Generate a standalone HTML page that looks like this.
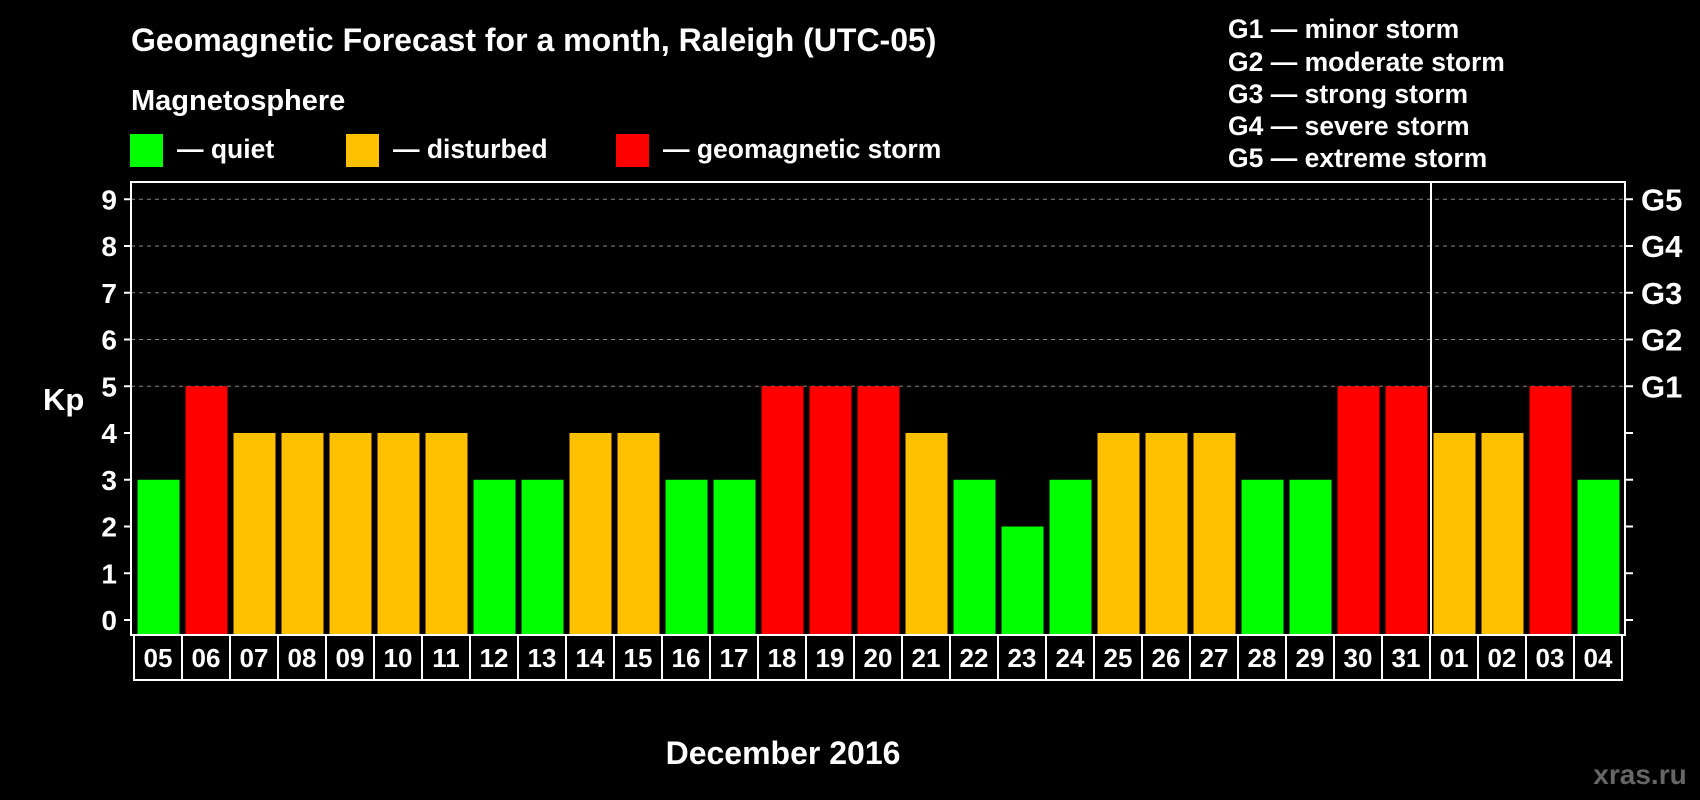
<!DOCTYPE html>
<html><head><meta charset="utf-8"><style>
body{margin:0;background:#000;}
svg{display:block;font-family:"Liberation Sans",Arial,sans-serif;font-weight:bold;}
</style></head><body>
<svg id="chart" width="1700" height="800" viewBox="0 0 1700 800">
<rect width="1700" height="800" fill="#000"/>
<text x="131" y="51" fill="#fff" font-size="32">Geomagnetic Forecast for a month, Raleigh (UTC-05)</text>
<text x="131" y="110" fill="#fff" font-size="29">Magnetosphere</text>
<g><rect x="130" y="134" width="33" height="33" fill="#00ff00"/><text x="177" y="158" fill="#fff" font-size="26.5">— quiet</text></g>
<g><rect x="346" y="134" width="33" height="33" fill="#ffc000"/><text x="393" y="158" fill="#fff" font-size="26.5">— disturbed</text></g>
<g><rect x="616" y="134" width="33" height="33" fill="#ff0000"/><text x="663" y="158" fill="#fff" font-size="26.5">— geomagnetic storm</text></g>
<g fill="#fff" font-size="26.5">
<text x="1228" y="38">G1 — minor storm</text>
<text x="1228" y="71">G2 — moderate storm</text>
<text x="1228" y="103">G3 — strong storm</text>
<text x="1228" y="135">G4 — severe storm</text>
<text x="1228" y="167">G5 — extreme storm</text>
</g>
<text x="43" y="410" fill="#fff" font-size="31">Kp</text>
<text x="783" y="764" fill="#fff" font-size="32" text-anchor="middle">December 2016</text>
<text x="1640" y="784" fill="#666" font-size="28" text-anchor="middle">xras.ru</text>
<g id="plot"></g>
</svg>
<script>
const days=["05","06","07","08","09","10","11","12","13","14","15","16","17","18","19","20","21","22","23","24","25","26","27","28","29","30","31","01","02","03","04"];
const kp=[3,5,4,4,4,4,4,3,3,4,4,3,3,5,5,5,4,3,2,3,4,4,4,3,3,5,5,4,4,5,3];
const yTicks=[0,1,2,3,4,5,6,7,8,9];
const gLabels=["G1","G2","G3","G4","G5"];
const gLevels=[5,6,7,8,9];
const NS="http://www.w3.org/2000/svg";
const g=document.getElementById('plot');
const L=131,R=1625,T=182,B=635;
const y=v=>620-v*46.75;
const x=i=>137.5+i*48;
function mk(t,a){const e=document.createElementNS(NS,t);for(const k in a)e.setAttribute(k,a[k]);g.appendChild(e);return e;}
const col=v=>v>=5?"#ff0000":v>=4?"#ffc000":"#00ff00";
gLevels.forEach(v=>{const e=mk('line',{x1:L,x2:R,y1:y(v),y2:y(v),stroke:'#888','stroke-dasharray':'4,4'});

});
yTicks.forEach(v=>{
const t=mk('text',{x:117,y:y(v)+10,fill:'#fff','font-size':28,'text-anchor':'end'});t.textContent=v;


const a=mk('line',{x1:124,x2:L,y1:y(v),y2:y(v),stroke:'#fff','stroke-width':2});


const b=mk('line',{x1:R,x2:R+8,y1:y(v),y2:y(v),stroke:'#fff','stroke-width':2});

});
gLabels.forEach((s,i)=>{const t=mk('text',{x:1641,y:y(gLevels[i])+11,fill:'#fff','font-size':31});t.textContent=s;

});
kp.forEach((v,i)=>{const r=mk('rect',{x:x(i),y:y(v),width:42,height:B-y(v),fill:col(v)});


const bx=mk('rect',{x:134+i*48,y:B,width:48,height:45,fill:'none',stroke:'#fff','stroke-width':2});


const t=mk('text',{x:158+i*48,y:667,fill:'#fff','font-size':26,'text-anchor':'middle'});t.textContent=days[i];

});
const f=mk('rect',{x:L,y:T,width:R-L,height:B-T,fill:'none',stroke:'#fff','stroke-width':2});


const d=mk('line',{x1:1431,x2:1431,y1:T,y2:B,stroke:'#fff','stroke-width':2});


</script>
</body></html>
